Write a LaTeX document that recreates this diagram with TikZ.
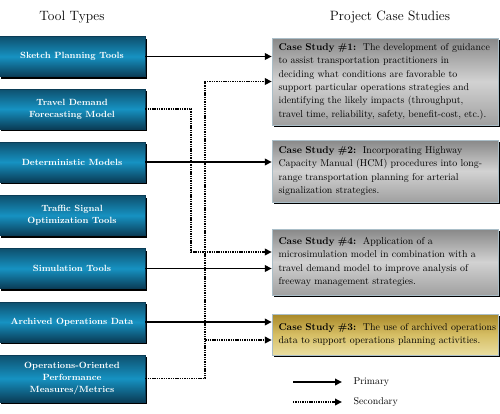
\documentclass[tikz,border=0pt]{standalone}
\usetikzlibrary{arrows.meta,shadows}
\definecolor{tooltop}{RGB}{14,80,110}
\definecolor{toolmid}{RGB}{22,146,194}
\definecolor{toolbot}{RGB}{10,60,86}
\definecolor{greytop}{RGB}{136,136,136}
\definecolor{greymid}{RGB}{210,210,210}
\definecolor{greybot}{RGB}{160,160,160}
\definecolor{goldtop}{RGB}{168,136,40}
\definecolor{goldmid}{RGB}{214,190,100}
\definecolor{goldbot}{RGB}{234,222,160}
\definecolor{edge}{RGB}{170,190,200}

\begin{document}
\begin{tikzpicture}[x=1pt,y=-1pt,
		tool/.style={minimum width=146pt,minimum height=40pt,inner sep=2pt,align=center,
			text=white,font=\bfseries\fontsize{9}{12}\selectfont,
			top color=tooltop,bottom color=toolbot,middle color=toolmid,draw=toolbot,
			drop shadow={shadow xshift=2pt,shadow yshift=-2pt,fill=black,opacity=1}},
		study/.style={text width=213pt,minimum width=226pt,inner xsep=6.5pt,align=left,
			font=\fontsize{9.9}{13.4}\selectfont,draw=edge,
			top color=greytop,bottom color=greybot,middle color=greymid,
			drop shadow={shadow xshift=2pt,shadow yshift=-2pt,fill=black,opacity=1}},
		primary/.style={line width=1.8pt,-{Triangle[length=7pt,width=6.5pt]}},
		secondary/.style={primary,dash pattern=on 1.4pt off 0.9pt}]
	\useasboundingbox[fill=white] (0,0) rectangle (500,413);

	\node[font=\fontsize{13.5}{15}\selectfont] (tooltitle) at (72,17) {Tool Types};
	\node[font=\fontsize{13.5}{15}\selectfont] (studytitle) at (390,17) {Project Case Studies};

	\node[tool] (sketch) at (72,56.5) {Sketch Planning Tools};
	\node[tool] (demand) at (72,109) {Travel Demand\\Forecasting Model};
	\node[tool] (determ) at (72,162) {Deterministic Models};
	\node[tool] (signal) at (72,215.5) {Traffic Signal\\Optimization Tools};
	\node[tool] (simul) at (72,268.5) {Simulation Tools};
	\node[tool] (archive) at (72,322) {Archived Operations Data};
	\node[tool,minimum height=47pt] (metrics) at (72,378.5) {Operations-Oriented\\Performance\\Measures/Metrics};

	\node[study,minimum height=87pt] (case1) at (385,81.5) {\textbf{Case Study \#1:}\ \ The development of guidance\\to assist transportation practitioners in\\deciding what conditions are favorable to\\support particular operations strategies and\\identifying the likely impacts (throughput,\\\mbox{travel time, reliability, safety, benefit-cost, etc.).}};
	\node[study,minimum height=62pt] (case2) at (385,171) {\textbf{Case Study \#2:}\ \ Incorporating Highway\\Capacity Manual (HCM) procedures into long-\\range transportation planning for arterial\\signalization strategies.};
	\node[study,minimum height=66pt] (case4) at (385,262) {\textbf{Case Study \#4:}\ \ Application of a\\microsimulation model in combination with a\\travel demand model to improve analysis of\\freeway management strategies.};
	\node[study,minimum height=41pt,top color=goldtop,bottom color=goldbot,middle color=goldmid] (case3) at (385,334.5) {\mbox{\textbf{Case Study \#3:}\ \ The use of archived operations}\\\mbox{data to support operations planning activities.}};

	\draw[primary] (sketch.east) -- (sketch.east -| case1.west);
	\draw[primary] (determ.east) -- (determ.east -| case2.west);
	\draw[primary] (simul.east) -- (simul.east -| case4.west);
	\draw[primary] (archive.east) -- (archive.east -| case3.west);
	\draw[secondary] (demand.east) -- ++(46,0) |- ([yshift=10pt]case4.west);
	\draw[secondary] (metrics.east) -- ++(60,0) coordinate (bend) |- (case1.west);
	\draw[secondary] (bend |- 0,340) -- ([yshift=-5.5pt]case3.west);

	\coordinate (primstart) at (293,382);
	\coordinate (secstart) at (293,402);
	\node[anchor=west,font=\fontsize{9.9}{11}\selectfont] (primlabel) at (350,382) {Primary};
	\node[anchor=west,font=\fontsize{9.9}{11}\selectfont] (seclabel) at (350,402) {Secondary};
	\draw[primary] (primstart) -- ([xshift=-8pt]primlabel.west);
	\draw[secondary] (secstart) -- ([xshift=-8pt]seclabel.west);
\end{tikzpicture}
\end{document}
